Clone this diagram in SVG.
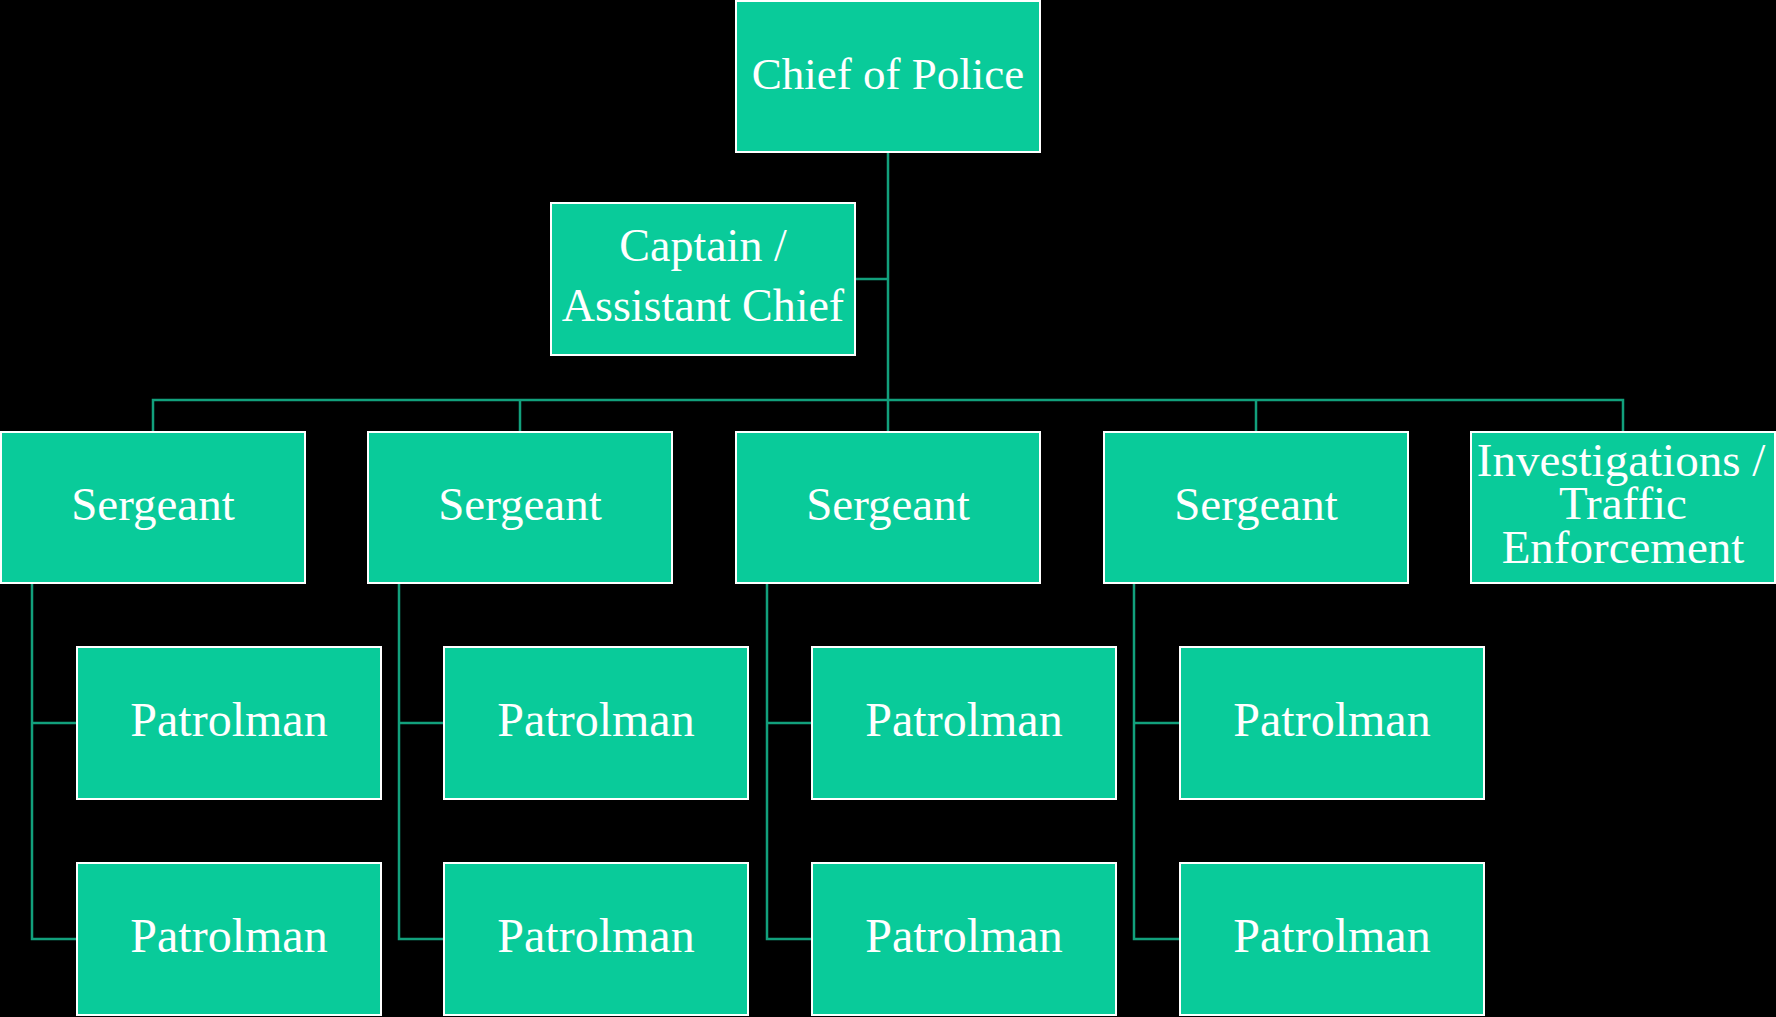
<svg xmlns="http://www.w3.org/2000/svg" width="1776" height="1017" viewBox="0 0 1776 1017">
<style>
.box{fill:#09CB9A;stroke:#FFFFFF;stroke-width:2}
.lbl{font-family:"Liberation Serif","Times New Roman",serif;font-size:46px;fill:#FFFFFF;text-anchor:middle}
.sg{font-size:47px}
.pl{font-size:48px}
.ch{font-size:45px}
.inv{font-size:47px}
.con{stroke:#12A07C;stroke-width:2.5;fill:none}
</style>
<rect x="0" y="0" width="1776" height="1017" fill="#000000"/>
<g id="connectors">
<path class="con" d="M888 152V400"/>
<path class="con" d="M855 279H888"/>
<path class="con" d="M153 431V400H1623V431"/>
<path class="con" d="M520 400V431"/>
<path class="con" d="M888 400V431"/>
<path class="con" d="M1256 400V431"/>
<path class="con" d="M32 583V939H77M32 723H77"/>
<path class="con" d="M399 583V939H444M399 723H444"/>
<path class="con" d="M767 583V939H812M767 723H812"/>
<path class="con" d="M1134 583V939H1180M1134 723H1180"/>
</g>
<g id="chief"><rect class="box" x="736" y="1" width="304" height="151"/><text class="lbl ch" x="888" y="89">Chief of Police</text></g>
<g id="captain"><rect class="box" x="551" y="203" width="304" height="152"/><text class="lbl" x="703" y="261">Captain /</text><text class="lbl" x="703" y="321">Assistant Chief</text></g>
<g id="sergeant1"><rect class="box" x="1" y="432" width="304" height="151"/><text class="lbl sg" x="153" y="520">Sergeant</text></g>
<g id="sergeant2"><rect class="box" x="368" y="432" width="304" height="151"/><text class="lbl sg" x="520" y="520">Sergeant</text></g>
<g id="sergeant3"><rect class="box" x="736" y="432" width="304" height="151"/><text class="lbl sg" x="888" y="520">Sergeant</text></g>
<g id="sergeant4"><rect class="box" x="1104" y="432" width="304" height="151"/><text class="lbl sg" x="1256" y="520">Sergeant</text></g>
<g id="investigations"><rect class="box" x="1471" y="432" width="304" height="151"/><text class="lbl inv" x="1621" y="476">Investigations /</text><text class="lbl inv" x="1623" y="519">Traffic</text><text class="lbl inv" x="1623" y="563">Enforcement</text></g>
<g id="patrolman1a"><rect class="box" x="77" y="647" width="304" height="152"/><text class="lbl pl" x="229" y="736">Patrolman</text></g>
<g id="patrolman1b"><rect class="box" x="77" y="863" width="304" height="152"/><text class="lbl pl" x="229" y="952">Patrolman</text></g>
<g id="patrolman2a"><rect class="box" x="444" y="647" width="304" height="152"/><text class="lbl pl" x="596" y="736">Patrolman</text></g>
<g id="patrolman2b"><rect class="box" x="444" y="863" width="304" height="152"/><text class="lbl pl" x="596" y="952">Patrolman</text></g>
<g id="patrolman3a"><rect class="box" x="812" y="647" width="304" height="152"/><text class="lbl pl" x="964" y="736">Patrolman</text></g>
<g id="patrolman3b"><rect class="box" x="812" y="863" width="304" height="152"/><text class="lbl pl" x="964" y="952">Patrolman</text></g>
<g id="patrolman4a"><rect class="box" x="1180" y="647" width="304" height="152"/><text class="lbl pl" x="1332" y="736">Patrolman</text></g>
<g id="patrolman4b"><rect class="box" x="1180" y="863" width="304" height="152"/><text class="lbl pl" x="1332" y="952">Patrolman</text></g>
</svg>
